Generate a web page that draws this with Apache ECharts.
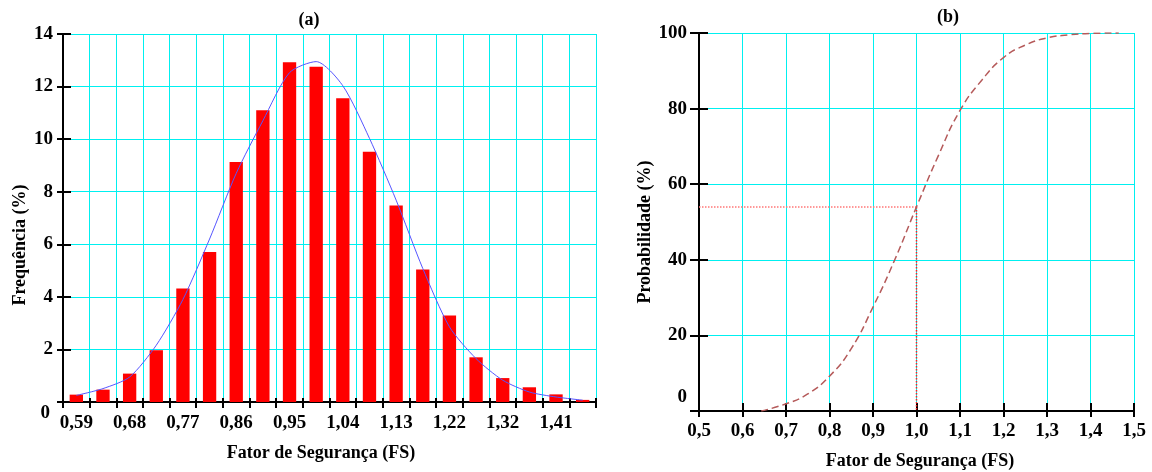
<!DOCTYPE html>
<html><head><meta charset="utf-8">
<script src="https://cdn.jsdelivr.net/npm/echarts@6/dist/echarts.min.js"></script>
<style>html,body{margin:0;padding:0;background:#fff}#c{width:1152px;height:472px}</style>
</head><body><div id="c"></div>
<script>
// ---- data ----
const fsCategories = ["0,59","0,63","0,68","0,72","0,77","0,81","0,86","0,90","0,95","1,00",
                      "1,04","1,09","1,13","1,18","1,22","1,27","1,32","1,36","1,41","1,45"];
const freqValues = [0.28,0.47,1.08,1.97,4.32,5.71,9.13,11.1,12.93,12.75,
                    11.56,9.52,7.48,5.04,3.29,1.70,0.91,0.56,0.29,0.08];
const fitValues  = [0.25,0.51,0.95,2.16,3.9,6.2,8.7,10.7,12.53,12.95,
                    12.03,10.03,7.68,5.08,2.86,1.65,0.83,0.38,0.19,0.07];
const cdfX = [0.643,0.7,0.75,0.8,0.85,0.9,0.95,1.0,1.05,1.1,1.15,1.2,1.25,1.3,1.35,1.4,1.465];
const cdfY = [0,1.9,4.5,9.2,16.5,27.5,40,54,67.5,79.5,87.5,93.5,96.8,98.7,99.5,99.9,100];
const refFS = 1.0;
const refProb = 54;

// ---- chart ----
const FONT = 'Liberation Serif';
const txt = {fontFamily: FONT, fontWeight: 'bold', color: '#000', fontSize: 19};
const black = {color: '#000', width: 2};
const cyan = {color: '#00f0f0', width: 1};
const nameFont = 'bold 18px "Liberation Serif"';

function zeroLabel(pad) {
  return {
    formatter: v => (v === 0 ? '{z|0}' : String(v)),
    rich: {z: Object.assign({padding: pad}, txt)}
  };
}

const chart = echarts.init(document.getElementById('c'), null, {renderer: 'canvas'});
chart.setOption({
  animation: false,
  backgroundColor: '#fff',
  grid: [
    {left: 63, top: 34, width: 533, height: 368},
    {left: 699, top: 33, width: 435, height: 378}
  ],
  xAxis: [
    {gridIndex: 0, type: 'category', data: fsCategories, boundaryGap: true, position: 'bottom',
     axisLine: {show: true, lineStyle: black},
     axisTick: {show: true, interval: 0, length: 6, lineStyle: black},
     axisLabel: Object.assign({interval: 1, margin: 12}, txt),
     splitLine: {show: true, interval: 0, lineStyle: cyan}},
    {gridIndex: 0, type: 'category', data: fsCategories, boundaryGap: true, position: 'bottom',
     axisLine: {show: false},
     axisTick: {show: true, inside: true, interval: 0, length: 4, lineStyle: black},
     axisLabel: {show: false}, splitLine: {show: false}},
    {gridIndex: 1, type: 'value', min: 0.5, max: 1.5, interval: 0.1, position: 'bottom',
     axisLine: {show: true, lineStyle: black},
     axisTick: {show: true, length: 6, lineStyle: black},
     axisLabel: Object.assign({margin: 11, formatter: v => v.toFixed(1).replace('.', ',')}, txt),
     splitLine: {show: true, lineStyle: cyan}},
    {gridIndex: 1, type: 'value', min: 0.5, max: 1.5, interval: 0.1, position: 'bottom',
     axisLine: {show: false},
     axisTick: {show: true, inside: true, length: 8, lineStyle: black},
     axisLabel: {show: false}, splitLine: {show: false}}
  ],
  yAxis: [
    {gridIndex: 0, type: 'value', min: 0, max: 14, interval: 2, position: 'left',
     axisLine: {show: true, lineStyle: black},
     axisTick: {show: true, length: 6, lineStyle: black},
     axisLabel: Object.assign({margin: 10}, txt, zeroLabel([22, 3, 0, 0])),
     splitLine: {show: true, lineStyle: cyan}},
    {gridIndex: 0, type: 'value', min: 0, max: 14, interval: 2, position: 'left',
     axisLine: {show: false},
     axisTick: {show: true, inside: true, length: 8, lineStyle: black},
     axisLabel: {show: false}, splitLine: {show: false}},
    {gridIndex: 1, type: 'value', min: 0, max: 100, interval: 20, position: 'left',
     axisLine: {show: true, lineStyle: black},
     axisTick: {show: true, length: 9, lineStyle: black},
     axisLabel: Object.assign({margin: 12}, txt, zeroLabel([0, 0, 28, 0])),
     splitLine: {show: true, lineStyle: cyan}},
    {gridIndex: 1, type: 'value', min: 0, max: 100, interval: 20, position: 'left',
     axisLine: {show: false},
     axisTick: {show: true, inside: true, length: 9, lineStyle: black},
     axisLabel: {show: false}, splitLine: {show: false}}
  ],
  series: [
    {type: 'bar', xAxisIndex: 0, yAxisIndex: 0, data: freqValues, barWidth: '50%',
     itemStyle: {color: '#ff0000'}},
    {type: 'line', xAxisIndex: 0, yAxisIndex: 0, data: fitValues, symbol: 'none', smooth: 0.25,
     lineStyle: {color: '#5555ff', width: 1}},
    {type: 'line', xAxisIndex: 2, yAxisIndex: 2, data: [[0.5, refProb], [refFS, refProb]],
     symbol: 'none', lineStyle: {color: '#ff7777', width: 1.5, type: 'dotted'}},
    {type: 'line', xAxisIndex: 2, yAxisIndex: 2, data: [[refFS, refProb], [refFS, 0]],
     symbol: 'none', lineStyle: {color: '#ff2020', width: 1.5, type: 'dotted'}},
    {type: 'line', xAxisIndex: 2, yAxisIndex: 2, data: cdfX.map((x, i) => [x, cdfY[i]]),
     symbol: 'none', smooth: 0.5, z: 3,
     lineStyle: {color: '#b55a5a', width: 1.5, type: [7, 4]}}
  ],
  graphic: [
    {type: 'text', x: 309, y: 20, style: {text: '(a)', font: nameFont, fill: '#000', textAlign: 'center', textVerticalAlign: 'middle'}},
    {type: 'text', x: 948, y: 17, style: {text: '(b)', font: nameFont, fill: '#000', textAlign: 'center', textVerticalAlign: 'middle'}},
    {type: 'text', x: 321, y: 453, style: {text: 'Fator de Segurança (FS)', font: nameFont, fill: '#000', textAlign: 'center', textVerticalAlign: 'middle'}},
    {type: 'text', x: 920, y: 461, style: {text: 'Fator de Segurança (FS)', font: nameFont, fill: '#000', textAlign: 'center', textVerticalAlign: 'middle'}},
    {type: 'text', x: 20, y: 245, rotation: Math.PI / 2, style: {text: 'Frequência (%)', font: nameFont, fill: '#000', textAlign: 'center', textVerticalAlign: 'middle'}},
    {type: 'text', x: 645, y: 232, rotation: Math.PI / 2, style: {text: 'Probabilidade (%)', font: nameFont, fill: '#000', textAlign: 'center', textVerticalAlign: 'middle'}}
  ]
});
</script>
</body></html>
